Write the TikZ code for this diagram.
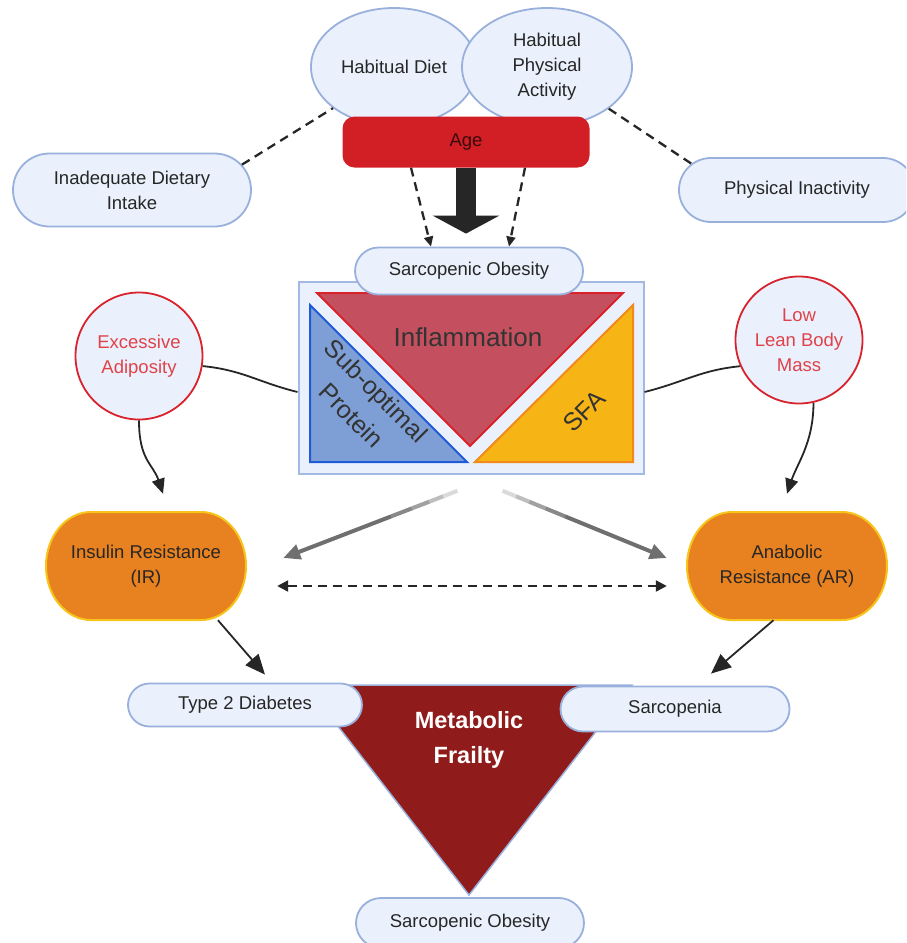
\documentclass[tikz,border=0pt]{standalone}
\usepackage{fontspec}
\setmainfont{Liberation Sans}
\usetikzlibrary{shapes.geometric,shapes.misc,arrows.meta,calc,backgrounds}
\definecolor{pillfill}{HTML}{EAF1FC}
\definecolor{pillline}{HTML}{9AB0DC}
\definecolor{boxline}{HTML}{A3B8E2}
\definecolor{agered}{HTML}{D21F26}
\definecolor{agetxt}{HTML}{3A0B0B}
\definecolor{inflfill}{HTML}{C4505F}
\definecolor{infline}{HTML}{D8222C}
\definecolor{protfill}{HTML}{7E9ED6}
\definecolor{protline}{HTML}{1F5BD8}
\definecolor{sfafill}{HTML}{F6B415}
\definecolor{sfaline}{HTML}{F08A1C}
\definecolor{orfill}{HTML}{E8811F}
\definecolor{orline}{HTML}{F6C41A}
\definecolor{mfred}{HTML}{8F1B1A}
\definecolor{circred}{HTML}{D8222C}
\definecolor{txtred}{HTML}{E0424A}
\definecolor{txt}{HTML}{262626}
\definecolor{tritxt}{HTML}{333333}
\definecolor{grayarrow}{HTML}{6F6F6F}
\begin{document}
\begin{tikzpicture}[x=1pt,y=-1pt,
  every node/.style={font=\fontsize{18.5}{25}\selectfont, text=txt, align=center, inner sep=0pt},
  pill/.style={rounded rectangle, draw=pillline, fill=pillfill, line width=1.8pt},
  bubble/.style={ellipse, draw=pillline, fill=pillfill, line width=1.8pt},
  redcirc/.style={circle, draw=circred, fill=pillfill, line width=1.8pt, text=txtred, minimum size=127pt},
  resist/.style={rectangle, minimum width=200pt, minimum height=108pt},
  resistshape/.style={draw=orline, fill=orfill, line width=2pt},
  dsh/.style={dash pattern=on 9pt off 6pt, line width=2.3pt, black!85},
  conn/.style={line width=1.8pt, black!85},
  grayarr/.style={line width=4pt, grayarrow, -{Triangle[length=17pt,width=15pt]}},
  smalltip/.style={-{Triangle[length=10pt,width=9pt]}},
  curvetip/.style={-{Triangle[length=15pt,width=13pt]}},
  bigtip/.style={-{Triangle[length=20pt,width=17pt]}},
]
\useasboundingbox (0,0) rectangle (906,943);
\clip (0,0) rectangle (906,943);

% top influences
\node[bubble, minimum width=166pt, minimum height=118pt] (diet) at (394,67) {Habitual Diet};
\node[bubble, minimum width=170pt, minimum height=118pt] (hpa) at (547,67) {Habitual\\Physical\\Activity};
\node[fill=agered, rounded corners=12pt, minimum width=247pt, minimum height=51pt, text=agetxt] (age) at (466,142) {Age};
\node[pill, minimum width=238pt, minimum height=73pt] (idi) at (132,190) {Inadequate Dietary\\Intake};
\node[pill, minimum width=236pt, minimum height=64pt] (pin) at (797,190) {Physical Inactivity};
\draw[dsh] (idi.13) -- (diet.214);
\draw[dsh] (hpa.-34) -- (pin.166);

% central box
\node[draw=boxline, fill=pillfill, line width=2pt, minimum width=345pt, minimum height=192pt] (box) at (471,378) {};
\draw[fill=inflfill, draw=infline, line width=2pt] (317,293) -- (623,293) -- (470,446) -- cycle;
\draw[fill=protfill, draw=protline, line width=2pt] (310,305) -- (310,462) -- (467,462) -- cycle;
\draw[fill=sfafill, draw=sfaline, line width=2pt] (633,305) -- (633,462) -- (475,462) -- cycle;
\node[font=\fontsize{26}{30}\selectfont, text=tritxt] (infl) at (468,337) {Inflammation};
\node[font=\fontsize{25}{35}\selectfont, rotate=-45, text=tritxt] (prot) at (364,403) {Sub-optimal\\Protein};
\node[font=\fontsize{25}{30}\selectfont, rotate=45, text=tritxt] (sfa) at (584,411) {SFA};
\node[pill, minimum width=228pt, minimum height=47pt] (so1) at (469,271) {Sarcopenic Obesity};

% arrows from Age
\draw[dsh, smalltip] ($(age.south)+(-55,0)$) -- ($(so1.north)+(-38,0)$);
\draw[dsh, smalltip] ($(age.south)+(59,0)$) -- ($(so1.north)+(40,0)$);
\draw[line width=20pt, black!85, -{Triangle[length=18pt,width=66pt]}] (age.south) -- ($(age.south |- so1.north)+(0,-13)$);

% side circles
\node[redcirc] (exc) at (139,356) {Excessive\\Adiposity};
\node[redcirc] (llm) at (799,340) {Low\\Lean Body\\Mass};

% resistances
\node[resist] (ir) at (146,566) {Insulin Resistance\\(IR)};
\node[resist] (ar) at (787,566) {Anabolic\\Resistance (AR)};
\begin{scope}[on background layer]
\foreach \n in {ir,ar}{
  \path[resistshape] ($(\n.center)+(-55,-54)$) -- ($(\n.center)+(55,-54)$)
    arc[start angle=-90, end angle=90, x radius=45, y radius=54]
    -- ($(\n.center)+(-55,54)$)
    arc[start angle=90, end angle=270, x radius=45, y radius=54] -- cycle;
}
\end{scope}

\draw[conn] (exc.-9) .. controls +(40,4) and +(-40,-10) .. ($(box.west)+(0,14)$);
\draw[conn] (llm.204) .. controls +(-40,4) and +(40,-10) .. ($(box.east)+(0,14)$);
\draw[conn, curvetip] (exc.south) .. controls +(0,40) and +(-10,-30) .. ($(ir.north)+(17,-18)$);
\draw[conn, curvetip] (llm.-77) .. controls +(0,40) and +(10,-30) .. ($(ar.north)+(0,-18)$);

% gray arrows from box
\coordinate (g1s) at ($(box.south)+(-14,16)$);
\coordinate (g1e) at ($(ir.east)+(37,-8)$);
\coordinate (g2s) at ($(box.south)+(32,16)$);
\coordinate (g2e) at ($(ar.west)+(-20,-8)$);
\draw[grayarr] (g1s) -- (g1e);
\draw[grayarr] (g2s) -- (g2e);
\foreach \a/\b/\o in {0/0.08/0.75,0.08/0.16/0.55,0.16/0.26/0.35,0.26/0.38/0.18}{
  \draw[line width=5pt, white, opacity=\o] ($(g1s)!\a!(g1e)$) -- ($(g1s)!\b!(g1e)$);
  \draw[line width=5pt, white, opacity=\o] ($(g2s)!\a!(g2e)$) -- ($(g2s)!\b!(g2e)$);
}
\draw[dsh, {Triangle[length=11pt,width=11pt]}-{Triangle[length=11pt,width=11pt]}] ($(ir.east)+(31,20)$) -- ($(ar.west)+(-20,20)$);

% metabolic frailty
\draw[fill=mfred, draw=pillline, line width=1.5pt] (306,685) -- (632,685) -- (469,895) -- cycle;
\node[font=\bfseries\fontsize{23.5}{35}\selectfont, text=white] (mf) at (469,740) {Metabolic\\Frailty};
\node[pill, minimum width=234pt, minimum height=43pt] (t2d) at (245,705) {Type 2 Diabetes};
\node[pill, minimum width=229pt, minimum height=45pt] (sarc) at (675,709) {Sarcopenia};
\node[pill, minimum width=228pt, minimum height=50pt] (so2) at (470,923) {Sarcopenic Obesity};

\draw[conn, bigtip] (ir.-37) -- ($(t2d.north)+(20,-8)$);
\draw[conn, bigtip] (ar.-104) -- ($(sarc.north)+(36,-12)$);
\end{tikzpicture}
\end{document}
